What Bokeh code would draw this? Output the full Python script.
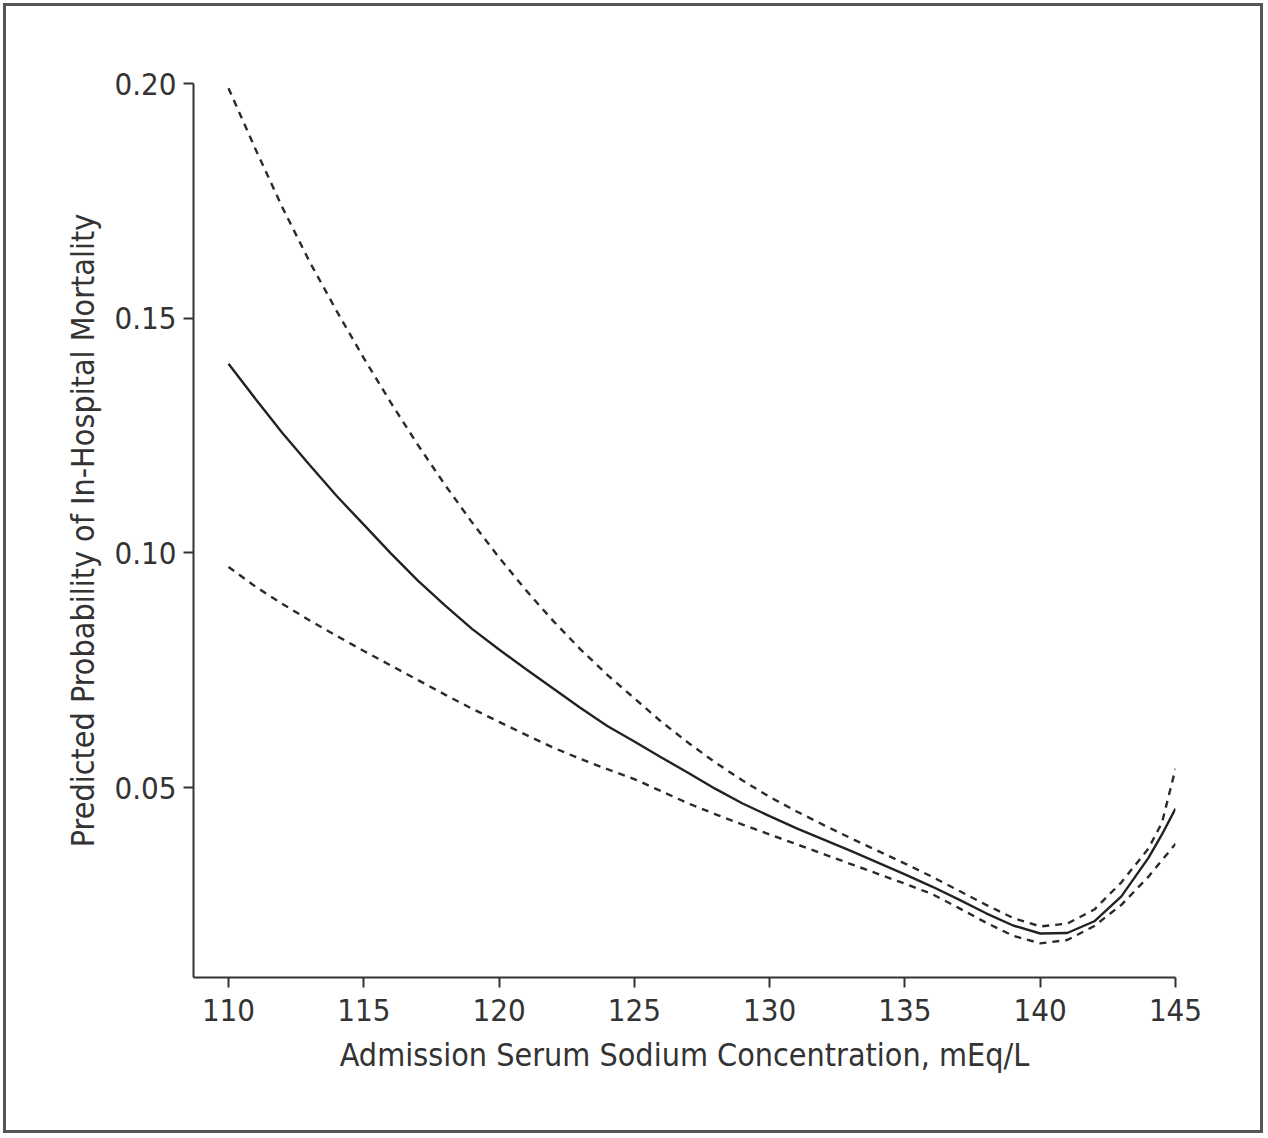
from bokeh.plotting import figure
from bokeh.models import FixedTicker, PrintfTickFormatter, Range1d
from bokeh.embed import file_html
from bokeh.resources import INLINE

# Data
sodium = [110, 111, 112, 113, 114, 115, 116, 117, 118, 119, 120, 121, 122, 123, 124,
          125, 126, 127, 128, 129, 130, 131, 132, 133, 134, 135, 136, 137, 138, 139,
          140, 141, 142, 143, 144, 144.5, 145]
predicted = [0.1403, 0.1328, 0.1255, 0.1187, 0.1121, 0.1060, 0.0999, 0.0941, 0.0888,
             0.0838, 0.0794, 0.0752, 0.0711, 0.0670, 0.0631, 0.0598, 0.0564, 0.0531,
             0.0497, 0.0466, 0.0439, 0.0413, 0.0389, 0.0365, 0.0340, 0.0315, 0.0289,
             0.0261, 0.0232, 0.0206, 0.0189, 0.0190, 0.0215, 0.0268, 0.0350, 0.0400,
             0.0455]
upper_ci = [0.199, 0.186, 0.1735, 0.162, 0.1515, 0.1415, 0.132, 0.123, 0.1145, 0.1065,
            0.099, 0.092, 0.0855, 0.0795, 0.074, 0.069, 0.064, 0.0595, 0.0553, 0.0515,
            0.048, 0.0449, 0.042, 0.0392, 0.0365, 0.0338, 0.031, 0.028, 0.025, 0.0222,
            0.0204, 0.021, 0.024, 0.0298, 0.037, 0.0425, 0.054]
lower_ci = [0.097, 0.0928, 0.0891, 0.0856, 0.0823, 0.0791, 0.0760, 0.0729, 0.0698,
            0.0668, 0.0640, 0.0612, 0.0585, 0.0561, 0.0539, 0.0518, 0.0492, 0.0466,
            0.0443, 0.0421, 0.0400, 0.0379, 0.0358, 0.0337, 0.0316, 0.0295, 0.0273,
            0.0243, 0.0212, 0.0184, 0.0168, 0.0175, 0.0205, 0.025, 0.031, 0.0345, 0.038]
x_ticks = [110, 115, 120, 125, 130, 135, 140, 145]
y_ticks = [0.05, 0.10, 0.15, 0.20]

FONT = "DejaVu Sans Condensed"
TXT = "#333333"

p = figure(width=1266, height=1136, output_backend="svg", toolbar_location=None,
           x_range=Range1d(108.707, 145.0), y_range=Range1d(0.00952, 0.20),
           min_border_left=193, min_border_right=91, min_border_top=83, min_border_bottom=159)
p.styles = {"outline": "3px solid #555555", "outline-offset": "-6px"}

p.grid.visible = False
p.outline_line_color = None
p.background_fill_color = "white"
p.border_fill_color = None

for ax in (p.xaxis[0], p.yaxis[0]):
    ax.axis_line_color = "#333333"
    ax.axis_line_width = 2
    ax.major_tick_line_color = "#333333"
    ax.major_tick_line_width = 2
    ax.major_tick_out = 10
    ax.major_tick_in = 0
    ax.minor_tick_line_color = None
    ax.major_label_text_font = FONT
    ax.major_label_text_font_size = "31px"
    ax.major_label_text_color = TXT
    ax.axis_label_text_font = FONT
    ax.axis_label_text_font_size = "32px"
    ax.axis_label_text_font_style = "normal"
    ax.axis_label_text_color = TXT

p.xaxis.ticker = FixedTicker(ticks=x_ticks)
p.yaxis.ticker = FixedTicker(ticks=y_ticks)
p.yaxis.formatter = PrintfTickFormatter(format="%.2f")
p.xaxis.major_label_standoff = 11
p.yaxis.major_label_standoff = 7
p.xaxis.axis_label = "Admission Serum Sodium Concentration, mEq/L"
p.yaxis.axis_label = "Predicted Probability of In-Hospital Mortality"
p.xaxis.axis_label_standoff = 12
p.yaxis.axis_label_standoff = 9

p.line(sodium, upper_ci, line_color="#2a2a2a", line_width=2.4, line_dash="7 6")
p.line(sodium, lower_ci, line_color="#2a2a2a", line_width=2.4, line_dash="7 6")
p.line(sodium, predicted, line_color="#222222", line_width=2.4)

open("out.html", "w").write(file_html(p, INLINE))
